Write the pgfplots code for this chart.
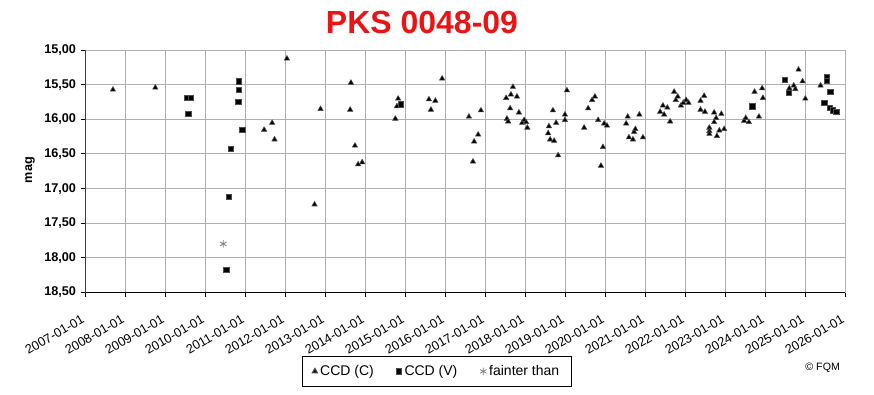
\documentclass[border=0pt]{standalone}
\usepackage{fontspec}
\setmainfont{Liberation Sans}
\usepackage{pgfplots}
\pgfplotsset{compat=1.18}
\definecolor{gridgray}{RGB}{175,175,175}
\definecolor{titlered}{RGB}{235,20,20}
\begin{document}
\begin{tikzpicture}
\useasboundingbox (0,0) rectangle (655.5pt,295.5pt);
\begin{axis}[
  at={(64pt,76.3pt)}, anchor=south west,
  scale only axis, width=570pt, height=181.5pt,
  xmin=2007, xmax=2026, ymin=15, ymax=18.5, y dir=reverse,
  xtick={2007,2008,2009,2010,2011,2012,2013,2014,2015,2016,2017,2018,2019,2020,2021,2022,2023,2024,2025,2026},
  xticklabels={2007-01-01,2008-01-01,2009-01-01,2010-01-01,2011-01-01,2012-01-01,2013-01-01,2014-01-01,2015-01-01,2016-01-01,2017-01-01,2018-01-01,2019-01-01,2020-01-01,2021-01-01,2022-01-01,2023-01-01,2024-01-01,2025-01-01,2026-01-01},
  ytick={15,15.5,16,16.5,17,17.5,18,18.5},
  /pgf/number format/assume math mode=true,
  yticklabel style={/pgf/number format/.cd, fixed, fixed zerofill, precision=2, use comma, /tikz/.cd, font=\bfseries\fontsize{9.5}{11}\selectfont},
  xticklabel style={rotate=30, anchor=north east, font=\fontsize{9.6}{11}\selectfont, xshift=-6pt, yshift=-6pt},
  grid=major, grid style={gridgray, line width=0.75pt},
  axis line style={gridgray, line width=0.75pt},
  tick align=outside, tick style={black, line width=0.75pt}, major tick length=3.5pt,
  xtick pos=bottom, ytick pos=left,
  legend style={at={(0.4628,-0.327)}, anchor=center, legend columns=3, draw=black, line width=0.75pt,
    font=\fontsize{10.5}{12}\selectfont, inner xsep=7.5pt, inner ysep=5pt,
    /tikz/every even column/.append style={column sep=15pt}},
  legend cell align=left,
  legend image code/.code={\draw[mark repeat=2,mark phase=2,#1] plot coordinates {(0cm,0cm) (0.12cm,0cm) (0.24cm,0cm)};},
]
\addplot[only marks, mark=triangle*, mark size=2.3pt, black, mark options={fill=black, draw=black!70}] coordinates {
(2007.69,15.57) (2008.75,15.54) (2011.47,16.15) (2011.67,16.05) (2011.73,16.29)
(2012.04,15.12) (2012.73,17.23) (2012.88,15.85) (2013.62,15.86) (2013.64,15.47)
(2013.74,16.38) (2013.82,16.65) (2013.92,16.62) (2014.75,15.99) (2014.79,15.81)
(2014.82,15.70) (2015.59,15.71) (2015.64,15.86) (2015.75,15.73) (2015.92,15.41)
(2016.59,15.96) (2016.69,16.61) (2016.72,16.32) (2016.82,16.22) (2016.89,15.87)
(2017.52,15.69) (2017.54,15.99) (2017.57,16.03) (2017.62,15.84) (2017.64,15.64)
(2017.69,15.53) (2017.79,15.67) (2017.84,15.90) (2017.92,16.05) (2017.97,16.01)
(2018.02,16.04) (2018.05,16.12) (2018.57,16.20) (2018.59,16.10) (2018.62,16.29)
(2018.69,15.87) (2018.72,16.31) (2018.77,16.05) (2018.82,16.52) (2018.99,15.93)
(2018.99,16.01) (2019.04,15.58) (2019.47,16.12) (2019.57,15.84) (2019.67,15.72)
(2019.74,15.67) (2019.82,16.01) (2019.89,16.67) (2019.94,16.40) (2019.97,16.06)
(2020.04,16.09) (2020.52,16.06) (2020.56,15.96) (2020.59,16.26) (2020.69,16.29)
(2020.72,16.18) (2020.75,16.14) (2020.85,15.93) (2020.94,16.26) (2021.37,15.89)
(2021.44,15.80) (2021.47,15.93) (2021.55,15.83) (2021.62,16.03) (2021.72,15.60)
(2021.76,15.72) (2021.81,15.67) (2021.89,15.80) (2021.95,15.76) (2022.02,15.72)
(2022.08,15.76) (2022.38,15.73) (2022.38,15.86) (2022.47,15.66) (2022.49,15.89)
(2022.60,16.12) (2022.60,16.17) (2022.60,16.21) (2022.72,15.90) (2022.72,16.04)
(2022.77,15.98) (2022.79,16.24) (2022.85,16.16) (2022.90,15.92) (2022.97,16.14)
(2023.47,16.02) (2023.51,15.98) (2023.59,16.04) (2023.73,15.60) (2023.84,15.96)
(2023.92,15.55) (2023.94,15.69) (2024.60,15.55) (2024.71,15.51) (2024.75,15.56)
(2024.83,15.28) (2024.93,15.45) (2025.00,15.70) (2025.38,15.51)
};
\addlegendentry{CCD (C)}
\addplot[only marks, mark=square*, mark size=2pt, black, mark options={fill=black, draw=black!70}] coordinates {
(2009.55,15.69) (2009.64,15.69) (2009.57,15.92) (2010.52,18.17) (2010.59,17.12)
(2010.64,16.42) (2010.82,15.74) (2010.84,15.57) (2010.84,15.45) (2010.92,16.15)
(2014.88,15.78) (2023.67,15.81) (2024.49,15.43) (2024.58,15.61) (2025.47,15.76)
(2025.54,15.39) (2025.54,15.44) (2025.61,15.83) (2025.62,15.60) (2025.68,15.87)
(2025.77,15.89)
};
\addlegendentry{CCD (V)}
\addplot[only marks, mark=asterisk, mark size=2.8pt, gray, mark options={line width=0.6pt}] coordinates {
(2010.45,17.80)
};
\addlegendentry{fainter than}
\draw[black, line width=1pt] (axis cs:2007,15) -- (axis cs:2007,18.5) -- (axis cs:2026,18.5);
\end{axis}
\node[font=\bfseries\fontsize{24}{28}\selectfont, text=titlered] at (316.5pt,279pt) {PKS 0048-09};
\node[font=\bfseries\fontsize{9.5}{11}\selectfont, rotate=90] at (22.5pt,168pt) {mag};
\node[font=\fontsize{8}{10}\selectfont] at (617pt,19.5pt) {© FQM};
\end{tikzpicture}
\end{document}
